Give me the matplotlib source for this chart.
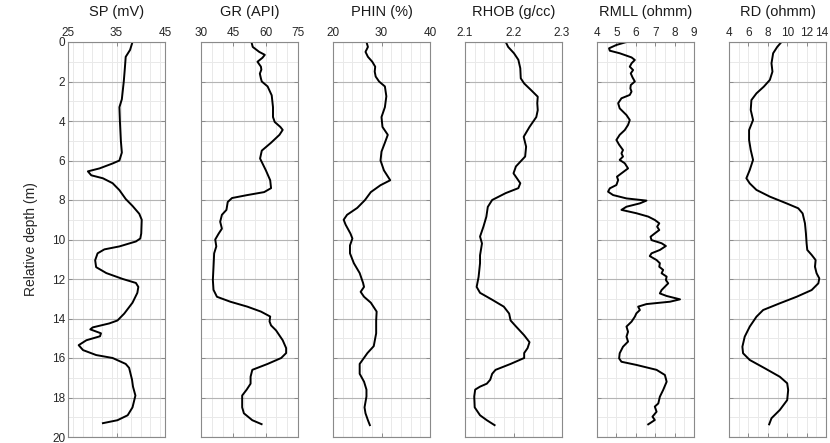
import matplotlib
matplotlib.use("Agg")
import matplotlib.pyplot as plt
import matplotlib.transforms as mtransforms
from matplotlib.ticker import MultipleLocator

plt.rcParams['font.family'] = ['Liberation Sans', 'DejaVu Sans']

# --- log readings (depth in m, value in track units) ---
sp_depth = [0, 0.4, 0.75, 1.4, 2, 2.9, 3.3, 4, 5, 5.6, 6, 6.15, 6.4, 6.55, 6.75, 6.9,
            7.15, 7.5, 7.95, 8.3, 8.7, 9, 9.7, 9.95, 10.1, 10.35, 10.5, 10.7, 11.05,
            11.4, 11.7, 12, 12.2, 12.4, 12.7, 13.2, 13.75, 14.1, 14.25, 14.45, 14.55,
            14.75, 14.9, 15.1, 15.35, 15.6, 15.85, 16, 16.3, 16.5, 17.1, 17.45, 17.9,
            18.5, 18.9, 19.15, 19.3]
sp_vals = [38.3, 37.8, 36.9, 36.7, 36.5, 36.1, 35.6, 35.7, 35.9, 36.1, 35.6, 34.2, 31.5,
           29.1, 29.8, 32.2, 34.2, 35.6, 36.9, 38.3, 39.7, 40.2, 40.1, 39.9, 39.0, 35.6,
           32.5, 31.1, 30.6, 30.8, 32.9, 36.3, 39.0, 39.5, 39.3, 38.3, 36.6, 35.2, 33.5,
           30.1, 29.6, 31.8, 31.6, 28.8, 27.2, 28.1, 30.8, 34.2, 36.9, 37.6, 38.2, 38.4,
           38.9, 38.3, 37.3, 35.2, 32.2]

gr_depth = [0, 0.25, 0.5, 0.65, 0.8, 1, 1.25, 1.4, 1.6, 1.85, 2, 2.25, 2.7, 3.3, 3.8,
            4.05, 4.3, 4.45, 4.7, 5.1, 5.5, 5.9, 6.5, 7, 7.4, 7.6, 7.75, 7.9, 8.1, 8.5,
            8.75, 9.1, 9.45, 9.7, 10, 10.35, 10.7, 11.4, 12.05, 12.55, 12.9, 13.15,
            13.4, 13.65, 13.9, 14.15, 14.35, 14.6, 15.1, 15.5, 15.75, 16, 16.3, 16.6,
            16.95, 17.3, 17.6, 17.9, 18.5, 18.8, 19.15, 19.35]
gr_vals = [53.4, 54, 57, 59.6, 58.5, 56.2, 57.8, 58, 57.3, 57.8, 58.2, 60.9, 62.8, 63.4,
           63.4, 64.2, 66.8, 67.9, 66.4, 62.5, 58.2, 57.4, 60.1, 62.1, 62.5, 59.3, 51.5,
           44.4, 42.4, 41.8, 39.7, 38.9, 39.7, 38.2, 36.6, 37.1, 36.1, 35.8, 35.5, 35.8,
           37.4, 43.6, 51.5, 57.8, 62.1, 61.8, 62.5, 64.8, 67.9, 69.5, 69.5, 67.2, 60.9,
           53.8, 53, 53, 51.2, 49.1, 49.1, 49.9, 53.8, 58.1]

phin_depth = [0, 0.25, 0.5, 0.75, 1, 1.25, 1.5, 1.75, 2, 2.25, 2.75, 3.3, 3.8, 4.3, 4.7,
              5.1, 5.55, 6, 6.5, 7, 7.25, 7.6, 8, 8.4, 8.75, 9, 9.25, 9.7, 9.95, 10.3,
              10.7, 11.2, 11.7, 12.2, 12.4, 12.65, 12.9, 13.2, 13.65, 14.1, 14.75, 15.4,
              15.75, 16.3, 16.8, 17.2, 17.6, 17.95, 18.5, 18.8, 19.15, 19.4]
phin_vals = [26.9, 27.2, 26.7, 27.2, 28.1, 28.7, 28.6, 28.8, 29.5, 30.7, 31, 30.7, 30,
             30.2, 31.3, 30.7, 30, 29.8, 30.5, 31.8, 29.8, 27.8, 26.6, 25, 22.9, 22.2,
             22.6, 23.6, 24, 23.5, 23.5, 24.3, 25.5, 26.2, 26.4, 25.7, 26.4, 27.8, 29,
             28.9, 28.9, 28.4, 27.1, 25.5, 25.5, 26.4, 26.9, 26.9, 26.5, 26.7, 27.2, 27.6]

rhob_depth = [0, 0.25, 0.57, 0.9, 1.33, 1.84, 2.1, 2.43, 2.77, 3.1, 3.45, 3.8, 4.3, 4.8,
              5.3, 5.8, 6.3, 6.65, 6.9, 7.15, 7.4, 7.65, 8, 8.35, 8.85, 9.35, 9.85, 10.2,
              10.5, 10.8, 11.2, 11.9, 12.4, 12.7, 13.05, 13.4, 13.75, 14.1, 14.4, 14.85,
              15.2, 15.5, 15.75, 16, 16.3, 16.6, 16.8, 17.1, 17.3, 17.45, 17.6, 17.95,
              18.5, 18.9, 19.15, 19.4]
rhob_vals = [2.184, 2.189, 2.201, 2.21, 2.214, 2.215, 2.222, 2.236, 2.25, 2.249, 2.25,
             2.247, 2.233, 2.221, 2.226, 2.224, 2.205, 2.2, 2.207, 2.214, 2.21, 2.184,
             2.156, 2.147, 2.144, 2.138, 2.131, 2.135, 2.133, 2.131, 2.131, 2.128, 2.124,
             2.131, 2.156, 2.18, 2.191, 2.194, 2.205, 2.222, 2.233, 2.229, 2.222, 2.222,
             2.194, 2.163, 2.156, 2.152, 2.145, 2.131, 2.121, 2.119, 2.12, 2.131, 2.145,
             2.161]

rmll_depth = [0, 0.15, 0.32, 0.44, 0.57, 0.78, 0.91, 1.08, 1.25, 1.42, 1.59, 1.79, 2.0,
              2.18, 2.35, 2.51, 2.68, 2.85, 3.1, 3.36, 3.7, 3.95, 4.2, 4.46, 4.7, 4.96,
              5.2, 5.47, 5.64, 5.8, 5.97, 6.14, 6.4, 6.65, 6.82, 6.99, 7.24, 7.41, 7.58,
              7.75, 7.92, 8.03, 8.17, 8.34, 8.5, 8.67, 8.84, 9.01, 9.18, 9.35, 9.52, 9.69,
              9.86, 10.03, 10.19, 10.33, 10.53, 10.7, 10.84, 11.04, 11.2, 11.38, 11.54,
              11.71, 11.88, 12.05, 12.22, 12.39, 12.56, 12.73, 12.86, 13.03, 13.15, 13.27,
              13.4, 13.57, 13.74, 13.91, 14.16, 14.41, 14.67, 14.92, 15.17, 15.43, 15.76,
              16.02, 16.19, 16.35, 16.6, 16.86, 17.2, 17.62, 17.96, 18.3, 18.46, 18.72,
              18.97, 19.14, 19.36]
rmll_vals = [5.52, 5.0, 4.62, 4.66, 5.17, 5.78, 5.95, 5.78, 5.69, 5.86, 5.74, 5.83, 5.95,
             5.74, 5.72, 5.78, 5.69, 5.26, 5.09, 5.17, 5.52, 5.69, 5.6, 5.43, 5.17, 5.0,
             5.14, 5.34, 5.26, 5.34, 5.17, 5.43, 5.6, 5.26, 5.03, 5.09, 5.0, 4.66, 4.57,
             4.83, 5.52, 6.55, 6.21, 5.52, 5.26, 6.03, 6.64, 6.98, 7.21, 7.1, 7.21, 6.98,
             6.76, 6.81, 7.33, 7.55, 7.24, 6.81, 6.72, 7.07, 7.24, 7.21, 7.41, 7.33, 7.59,
             7.55, 7.67, 7.5, 7.33, 7.24, 7.59, 8.28, 7.76, 6.55, 6.12, 6.21, 6.03, 5.95,
             5.78, 5.52, 5.6, 5.52, 5.6, 5.34, 5.17, 5.14, 5.26, 6.03, 7.07, 7.5, 7.59,
             7.41, 7.24, 7.16, 6.98, 7.07, 6.86, 6.98, 6.64]

rd_depth = [0, 0.25, 0.57, 1.08, 1.5, 1.92, 2.26, 2.6, 2.94, 3.44, 3.95, 4.46, 4.96,
            5.47, 5.97, 6.48, 6.9, 7.16, 7.49, 7.83, 8.17, 8.42, 8.68, 9.18, 9.69, 10.2,
            10.53, 10.78, 11.04, 11.38, 11.71, 11.97, 12.22, 12.56, 12.9, 13.23, 13.57,
            13.91, 14.41, 14.92, 15.43, 15.76, 16.1, 16.52, 16.95, 17.28, 17.62, 18.13,
            18.63, 19.05, 19.36]
rd_vals = [9.41, 8.97, 8.55, 8.38, 8.48, 8.21, 7.59, 6.83, 6.31, 6.24, 6.48, 6.07, 6.07,
           6.24, 6.48, 6.14, 5.79, 6.14, 6.83, 8.21, 9.93, 11.14, 11.59, 11.83, 11.93, 12,
           12.07, 12.52, 12.93, 12.86, 13.03, 13.31, 13.21, 12.52, 10.97, 9.24, 7.52, 6.83,
           6.14, 5.62, 5.38, 5.45, 6.14, 7.69, 9.24, 10, 10.1, 10, 9.24, 8.38, 8.14]

titles = ['SP (mV)', 'GR (API)', 'PHIN (%)', 'RHOB (g/cc)', 'RMLL (ohmm)', 'RD (ohmm)']
xlims = [(25, 45), (30, 75), (20, 40), (2.1, 2.3), (4, 9), (4, 14)]
xticks = [[25, 35, 45], [30, 45, 60, 75], [20, 30, 40], [2.1, 2.2, 2.3],
          [4, 5, 6, 7, 8, 9], [4, 6, 8, 10, 12, 14]]
xminor = [2, 5, 2, 0.02, 0.5, 1]
tracks = [(sp_depth, sp_vals), (gr_depth, gr_vals), (phin_depth, phin_vals),
          (rhob_depth, rhob_vals), (rmll_depth, rmll_vals), (rd_depth, rd_vals)]

W, H = 830, 443
fig = plt.figure(figsize=(W / 100, H / 100), dpi=100)

lefts = [68, 201, 333, 465, 597, 729]
aw, top, bot = 97, 42, 437

for i, (d, v) in enumerate(tracks):
    ax = fig.add_axes([lefts[i] / W, 1 - bot / H, aw / W, (bot - top) / H])
    ax.set_xlim(*xlims[i])
    ax.set_ylim(20, 0)
    ax.set_xticks(xticks[i])
    ax.set_xticklabels([('%g' % t) for t in xticks[i]])
    ax.xaxis.set_minor_locator(MultipleLocator(xminor[i]))
    ax.set_yticks(range(0, 21, 2))
    ax.yaxis.set_minor_locator(MultipleLocator(1))

    # light grid everywhere, darker horizontal lines at each labelled depth
    ax.grid(which='minor', color='#e9e9e9', lw=0.7)
    ax.grid(which='major', axis='x', color='#e9e9e9', lw=0.7)
    ax.grid(which='major', axis='y', color='#b4b4b4', lw=0.8)
    ax.set_axisbelow(True)

    ax.plot(v, d, color='black', lw=1.4)

    ax.xaxis.tick_top()
    ax.tick_params(which='major', direction='in', length=3, width=0.7, color='#8a8a8a',
                   labelsize=8.5, labelcolor='#262626', pad=2,
                   top=True, bottom=True, left=True, right=True)
    ax.tick_params(which='minor', length=0)
    if i > 0:
        ax.tick_params(labelleft=False)
    for s in ax.spines.values():
        s.set_color('#8a8a8a')
        s.set_linewidth(0.8)
    ax.set_title(titles[i], fontsize=10.5, pad=8, color='#1a1a1a')
    if i == 0:
        ax.set_ylabel('Relative depth (m)', fontsize=10, color='#262626', labelpad=10)

# keep the last resistivity label inside the figure edge
last = ax.get_xticklabels()[-1]
last.set_transform(last.get_transform() +
                   mtransforms.ScaledTranslation(-4 / 100, 0, fig.dpi_scale_trans))

fig.savefig('out.png', dpi=100)
